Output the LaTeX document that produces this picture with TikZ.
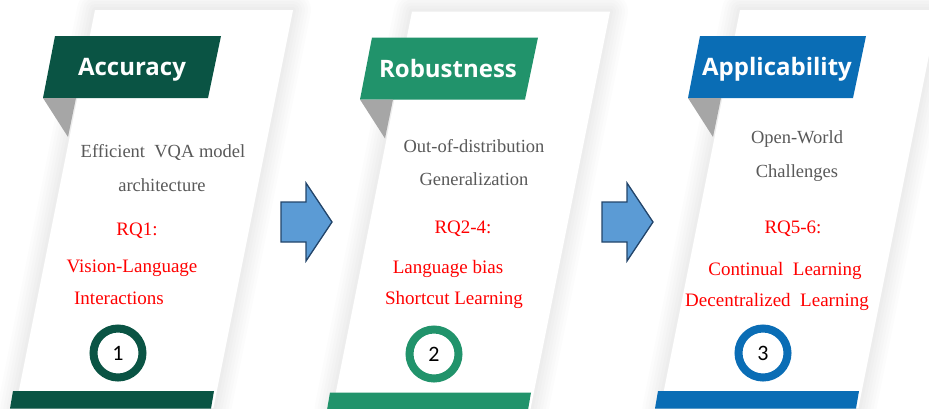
\documentclass[tikz,border=0pt]{standalone}
\usepackage{fontspec}
\setmainfont{Liberation Serif}
\newfontfamily\headfont{Open Sans}
\newfontfamily\numfont{Carlito}
\definecolor{accgreen}{HTML}{0A5444}
\definecolor{robgreen}{HTML}{21936B}
\definecolor{appblue}{HTML}{0A6DB5}
\definecolor{txtgray}{HTML}{595959}
\definecolor{arrblue}{HTML}{5B9BD5}
\definecolor{arrline}{HTML}{23456A}
\definecolor{foldgray}{HTML}{A6A6A6}
\begin{document}
\begin{tikzpicture}
  [x=1pt,y=-1pt,
   title/.style={anchor=base, text=white, font=\headfont\bfseries\fontsize{24}{28}\selectfont},
   topic/.style={anchor=base, text=txtgray, font=\fontsize{18.5}{22}\selectfont},
   rq/.style={anchor=base, text=red, font=\fontsize{19}{23}\selectfont},
   stage/.style={circle, line width=8pt, minimum size=49pt, fill=white, inner sep=0pt, font=\numfont\fontsize{22}{24}\selectfont}]
  \useasboundingbox (0,0) rectangle (929,408);

  % the three slanted cards
  \foreach \dx/\dy/\col in {0/0/accgreen, 317/1.5/robgreen, 645/0/appblue} {
    \begin{scope}[shift={(\dx,\dy)}]
      \foreach \w in {36,30,...,6}
        \draw[line width=\w pt, black, opacity=0.012, line join=round]
          (95,10) -- (293,10) -- (213.4,408) -- (15.4,408) -- cycle;
      \fill[white] (95,10) -- (293,10) -- (213.4,408) -- (15.4,408) -- cycle;
      \fill[\col] (55,36) -- (221,36) -- (208,98) -- (43,98) -- cycle;
      \fill[foldgray] (43,98) -- (76,98) -- (68,137) -- cycle;
      \fill[\col] (13,391) -- (214,391) -- (211,408.5) -- (10,408.5) -- cycle;
    \end{scope}
  }

  % block arrows between the cards
  \foreach \ax in {0,321}
    \filldraw[fill=arrblue, draw=arrline, line width=1.3pt, line join=miter, shift={(\ax,0)}]
      (281,202) -- (306,202) -- (306,183) -- (332,222) -- (306,261) -- (306,242) -- (281,242) -- cycle;

  \node[title] (acc) at (132,75) {Accuracy};
  \node[title] (rob) at (448,77) {Robustness};
  \node[title] (app) at (777,75) {Applicability};

  \node[topic] (t11) at (163,157) {Efficient\ \ VQA model};
  \node[topic] (t12) at (162,191) {architecture};
  \node[rq] (r10) at (137,235) {RQ1:};
  \node[rq] (r11) at (132,272) {Vision-Language};
  \node[rq] (r12) at (119,304) {Interactions};

  \node[topic] (t21) at (474,152) {Out-of-distribution};
  \node[topic] (t22) at (474,185) {Generalization};
  \node[rq] (r20) at (463,233) {RQ2-4:};
  \node[rq] (r21) at (448,273) {Language bias};
  \node[rq] (r22) at (454,304) {Shortcut Learning};

  \node[topic] (t31) at (797,143) {Open-World};
  \node[topic] (t32) at (797,177) {Challenges};
  \node[rq] (r30) at (793,233) {RQ5-6:};
  \node[rq] (r31) at (785,275) {Continual\ \ Learning};
  \node[rq] (r32) at (777,306) {Decentralized\ \ Learning};

  \node[stage, draw=accgreen] (s1) at (118,353) {1};
  \node[stage, draw=robgreen] (s2) at (434,354) {2};
  \node[stage, draw=appblue] (s3) at (763,353) {3};
\end{tikzpicture}
\end{document}
